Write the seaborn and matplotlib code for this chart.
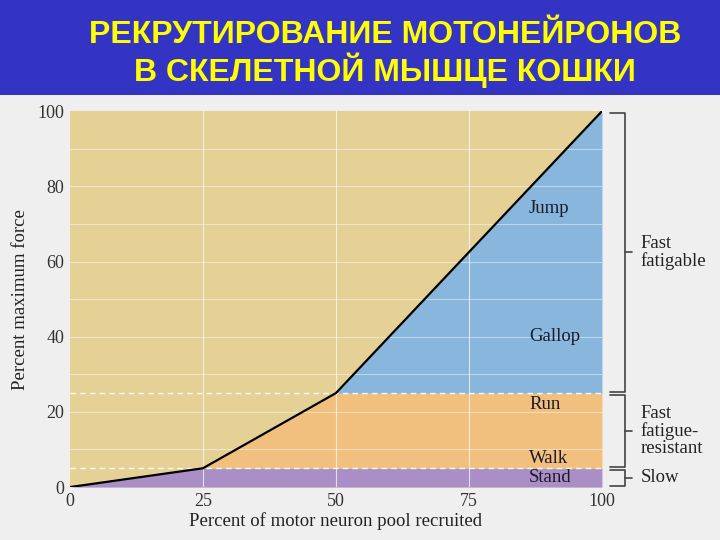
import numpy as np
import matplotlib
matplotlib.use("Agg")
import matplotlib.pyplot as plt
import seaborn as sns
import pandas as pd

# data
recruit = [0, 25, 50, 100]          # percent of motor neuron pool recruited
force = [0, 5, 25, 100]             # percent maximum force
thresholds = [5, 25]                # boundaries between unit types
activities = ["Jump", "Gallop", "Run", "Walk", "Stand"]
activity_y = [74, 40, 22, 7.5, 2.5]
unit_types = ["Fast\nfatigable", "Fast\nfatigue-\nresistant", "Slow"]
unit_bounds = [(25, 100), (5, 25), (0, 5)]
title = "РЕКРУТИРОВАНИЕ МОТОНЕЙРОНОВ\nВ СКЕЛЕТНОЙ МЫШЦЕ КОШКИ"

sns.set_style("white")
plt.rcParams['font.family'] = ['Liberation Serif', 'DejaVu Serif']

fig = plt.figure(figsize=(7.2, 5.4), dpi=100)
fig.patch.set_facecolor('#EFEFEF')
# blue banner with the title
fig.patches.append(plt.Rectangle((0, 0.824), 1, 0.176, transform=fig.transFigure,
                                 facecolor='#3434C4', edgecolor='none'))
fig.text(0.535, 0.9, title, ha='center', va='center', color='#FFFF00',
         fontsize=23, fontweight='bold', family=['Liberation Sans', 'DejaVu Sans'],
         linespacing=1.1)

ax = fig.add_axes([0.097, 0.098, 0.739, 0.696])
ax.set_facecolor('#E5D096')

xs = np.linspace(0, 100, 401)
ys = np.interp(xs, recruit, force)
lo, hi = thresholds
ax.fill_between(xs, 0, np.minimum(ys, lo), color='#A98FC6', lw=0, zorder=1)
ax.fill_between(xs, lo, np.clip(ys, lo, hi), color='#F1C07E', lw=0, zorder=1)
ax.fill_between(xs, hi, np.clip(ys, hi, 100), color='#88B6DC', lw=0, zorder=1)

# faint white grid
for g in range(10, 100, 10):
    ax.axhline(g, color='white', lw=0.8, alpha=0.45, zorder=2)
for g in [25, 50, 75]:
    ax.axvline(g, color='white', lw=0.8, alpha=0.7, zorder=2)
for t in thresholds:
    ax.axhline(t, color='white', lw=1.0, ls=(0, (4, 3)), alpha=0.9, zorder=2)

df = pd.DataFrame({'recruit': recruit, 'force': force})
sns.lineplot(data=df, x='recruit', y='force', color='black', lw=1.6, ax=ax, zorder=3)

for name, yv in zip(activities, activity_y):
    ax.text(86.3, yv, name, fontsize=13.5, va='center', ha='left', color='#1a1a2a', zorder=4)

ax.set_xlim(0, 100)
ax.set_ylim(0, 100)
ax.set_xticks([0, 25, 50, 75, 100])
ax.set_yticks([0, 20, 40, 60, 80, 100])
ax.tick_params(labelsize=13, length=0, colors='#333333', pad=4)
for s in ax.spines.values():
    s.set_visible(False)
ax.set_xlabel("Percent of motor neuron pool recruited", fontsize=13.5, color='#222222', labelpad=2)
ax.set_ylabel("Percent maximum force", fontsize=13.5, color='#222222', labelpad=6)

# brackets for unit types
bx = 104.3
for name, (b0, b1) in zip(unit_types, unit_bounds):
    ax.plot([101.5, bx, bx, 101.5], [b0 + 0.4, b0 + 0.4, b1 - 0.4, b1 - 0.4],
            color='#444444', lw=1.2, clip_on=False)
    mid = (b0 + b1) / 2
    ax.plot([bx, 105.6], [mid, mid], color='#444444', lw=1.2, clip_on=False)
    ax.text(107.3, mid, name, fontsize=13.5, va='center', ha='left', color='#222222',
            linespacing=1.0)

fig.savefig('out.png', dpi=100, facecolor=fig.get_facecolor())
